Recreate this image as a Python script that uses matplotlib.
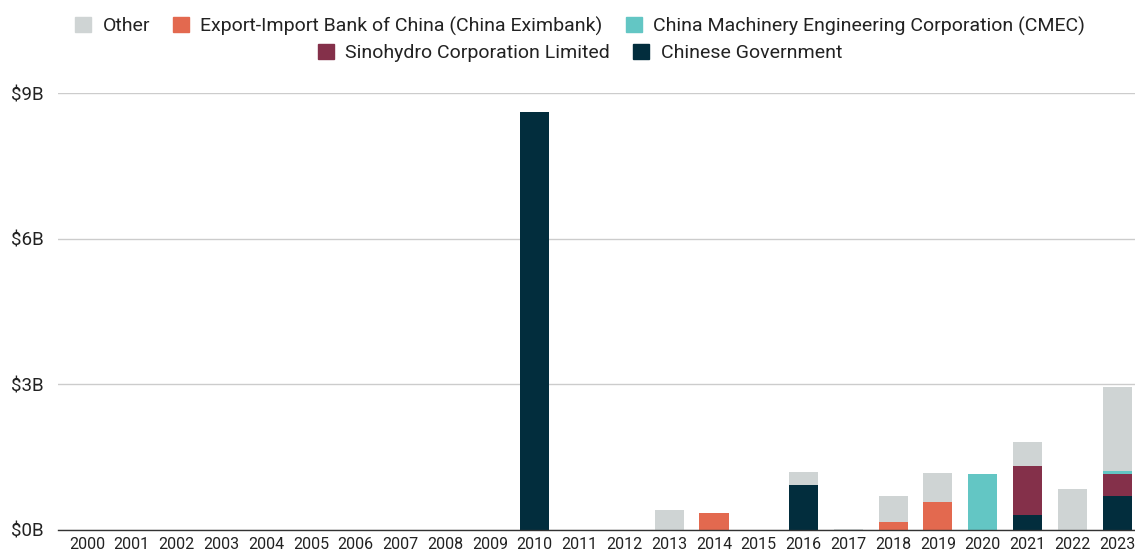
import matplotlib
matplotlib.use("Agg")
import matplotlib.pyplot as plt
from matplotlib.patches import Patch
import numpy as np

plt.rcParams['font.family'] = ['Roboto', 'DejaVu Sans']

years = [str(y) for y in range(2000, 2024)]

# Values in billions of US dollars
chinese_government = [0, 0, 0, 0, 0, 0, 0, 0, 0, 0, 8.61, 0, 0, 0, 0, 0, 0.93, 0, 0, 0, 0, 0.30, 0, 0.70]
sinohydro = [0, 0, 0, 0, 0, 0, 0, 0, 0, 0, 0, 0, 0, 0, 0, 0, 0, 0, 0, 0, 0, 1.02, 0, 0.45]
cmec = [0, 0, 0, 0, 0, 0, 0, 0, 0, 0, 0, 0, 0, 0, 0, 0, 0, 0, 0, 0, 1.15, 0, 0, 0.06]
china_eximbank = [0, 0, 0, 0, 0, 0, 0, 0, 0, 0, 0, 0, 0, 0, 0.36, 0, 0, 0, 0.165, 0.58, 0, 0, 0, 0]
other = [0, 0, 0, 0, 0, 0, 0, 0, 0, 0, 0, 0, 0, 0.41, 0, 0, 0.27, 0.02, 0.525, 0.59, 0, 0.50, 0.84, 1.74]

series = [
    ("Chinese Government", chinese_government, "#022d3d"),
    ("Sinohydro Corporation Limited", sinohydro, "#84304a"),
    ("China Machinery Engineering Corporation (CMEC)", cmec, "#63c6c4"),
    ("Export-Import Bank of China (China Eximbank)", china_eximbank, "#e3694f"),
    ("Other", other, "#cfd4d4"),
]

fig = plt.figure(figsize=(11.35, 5.54), dpi=100)
ax = fig.add_axes([58 / 1135, 24 / 554, (1135 - 58) / 1135, (530 - 93) / 554])

x = np.arange(len(years))
bottom = np.zeros(len(years))
for name, vals, color in series:
    v = np.array(vals, dtype=float)
    ax.bar(x, v, width=0.65, bottom=bottom, color=color, zorder=3, linewidth=0)
    bottom += v

ax.set_xlim(-0.645, 23.4)
ax.set_ylim(0, 9)
ax.set_yticks([0, 3, 6, 9])
ax.set_yticklabels(["$0B", "$3B", "$6B", "$9B"])
ax.set_xticks(x)
ax.set_xticklabels(years)
ax.tick_params(axis='both', length=0, colors="#222222")
ax.tick_params(axis='y', pad=10, labelsize=13.5)
ax.tick_params(axis='x', pad=5, labelsize=11.5)
ax.grid(axis='y', color="#cccccc", linewidth=1, zorder=0)
for s in ["top", "right", "left"]:
    ax.spines[s].set_visible(False)
ax.spines["bottom"].set_color("#333333")
ax.spines["bottom"].set_linewidth(1)
ax.spines["bottom"].set_zorder(4)

colors = {name: c for name, _, c in series}
row1 = ["Other", "Export-Import Bank of China (China Eximbank)",
        "China Machinery Engineering Corporation (CMEC)"]
row2 = ["Sinohydro Corporation Limited", "Chinese Government"]

common = dict(frameon=False, fontsize=14, handlelength=0.82, handleheight=0.82,
              handletextpad=0.59, columnspacing=1.18, borderaxespad=0, borderpad=0,
              labelcolor="#222222")
leg1 = fig.legend([Patch(color=colors[n]) for n in row1], row1, ncol=3,
                  loc="center", bbox_to_anchor=(0.511, 1 - 26 / 554), **common)
leg2 = fig.legend([Patch(color=colors[n]) for n in row2], row2, ncol=2,
                  loc="center", bbox_to_anchor=(0.511, 1 - 53 / 554), **common)

fig.savefig("out.png", dpi=100)
